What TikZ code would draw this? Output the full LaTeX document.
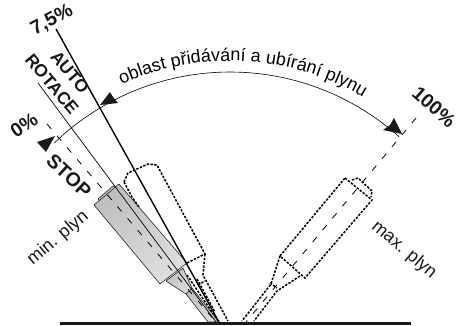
\documentclass[tikz,border=0pt]{standalone}
\usepackage{fontspec}
\setmainfont{Liberation Sans}
\usetikzlibrary{decorations.text}
\tikzset{
  ghost/.style={line width=1.5pt,dash pattern=on 2.4pt off 1.4pt,line join=miter},
  axisdash/.style={line width=0.8pt,dash pattern=on 6.5pt off 9pt},
  thinline/.style={line width=0.7pt},
  thickline/.style={line width=1.4pt},
  lab/.style={inner sep=0pt,font=\fontsize{18}{19}\selectfont,text=black!90},
  blab/.style={inner sep=0pt,font=\fontsize{19.5}{21}\selectfont\bfseries,text=black!90},
  blabs/.style={inner sep=0pt,font=\fontsize{17.5}{18}\selectfont\bfseries,text=black!90},
  arrowtip/.style={fill=black!90,draw=none},
  bodyfill/.style={left color=black!25,right color=black!13,shading angle=40,draw=black!85,line width=0.6pt,line join=round}
}
\begin{document}
\begin{tikzpicture}[x=1pt,y=-1pt]
\useasboundingbox (0,0) rectangle (458,325);
% gray throttle
\draw[bodyfill] (98,199) -- (113,186) -- (122,192) -- (104,206) -- cycle;
\draw[bodyfill] (186,294) -- (208,322) -- (219,322) -- (192,288) -- cycle;
\draw[bodyfill] (166,281) -- (183,268) -- (192,288) -- (186,294) -- cycle;
\draw[bodyfill] (94,205) -- (119,184) -- (187,263) -- (160,284) -- cycle;
% ghost at 7.5 %
\draw[ghost] (124,182) -- (128,173) -- (148,164) -- (157,165) -- (205,254) -- (187,263);
\draw[ghost] (124,182) -- (132,197) -- (139,207);
\draw[ghost] (205,254) -- (203,275) -- (228,321);
\draw[ghost] (187,275) -- (218,321);
\draw[ghost] (198,285) -- (205,281);
\draw[ghost] (197,279) -- (215,312);
% ghost at max
\draw[ghost] (345,178) -- (372,200) -- (305,278) -- (280,256) -- cycle;
\draw[ghost] (352,180) -- (358,178) -- (372,191) -- (371,197);
\draw[ghost] (280,256) -- (271,284) -- (242,321);
\draw[ghost] (300,276) -- (277,291) -- (254,321);
\draw[ghost] (270,283) -- (277,288);
% axes
\coordinate (zeroA) at (47,124);
\coordinate (zeroB) at (216,322);
\draw[axisdash] (zeroA) -- (zeroB);
\coordinate (fullA) at (416,118);
\coordinate (fullB) at (246,322);
\draw[axisdash] (fullA) -- (fullB);
% solid lines
\coordinate (thinA) at (38,83);
\coordinate (thinB) at (216,322);
\draw[thinline] (thinA) -- (thinB);
\coordinate (thickA) at (56,29);
\coordinate (thickB) at (219,322);
\draw[thickline] (thickA) -- (thickB);
% base
\fill[black!90] (60,322) rectangle (411,325);
% arc
\draw[line width=0.6pt] plot[smooth,domain=48:134,samples=30] ({230+253*cos(\x)},{325-253*sin(\x)});
\fill[arrowtip] (37,142) -- (55,136) -- (51,143) -- (46,152) -- cycle;
\fill[arrowtip] (100,105) -- (118,103) -- (113,97) -- (110,92) -- cycle;
\fill[arrowtip] (402,134) -- (383,130) -- (390,125) -- (394,118) -- cycle;
% curved label
\path[decorate,decoration={text along path,text align={center},
  text={|\fontsize{18}{19}\selectfont|oblast přidávání a ubírání plynu}}]
  (114.3,87.7) .. controls (196.1,47.8) and (292.7,52.9) .. (369.9,101.1);
% labels
\node[blab,rotate=28] (tl75) at (52,20) {7,5\%};
\node[blab,rotate=33] (tl0) at (24,125) {0\%};
\node[blab,rotate=-41] (tl100) at (434,107) {100\%};
\node[blabs,rotate=-50] (tlauto) at (70,72) {AUTO};
\node[blabs,rotate=-50] (tlrot) at (52,84) {ROTACE};
\node[blab,rotate=-43] (tlstop) at (69,176) {STOP};
\node[lab,rotate=40] (tlmin) at (58,238) {min. plyn};
\node[lab,rotate=-40] (tlmax) at (404,250) {max. plyn};
\end{tikzpicture}
\end{document}
